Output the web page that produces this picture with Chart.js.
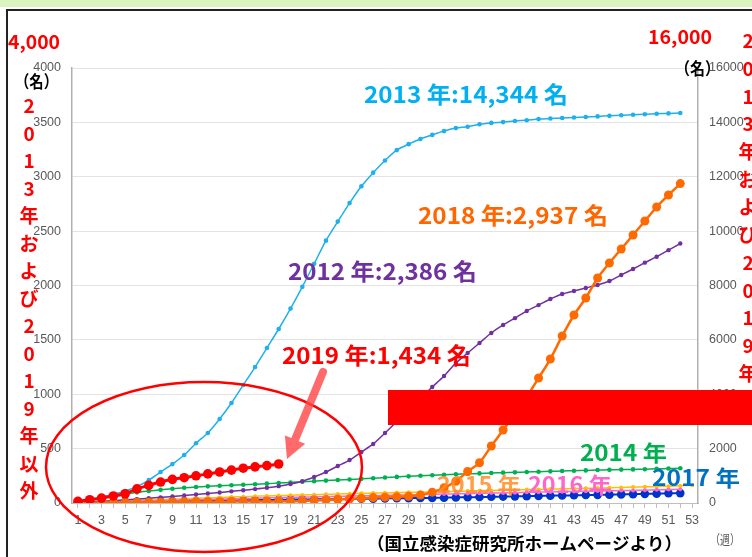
<!DOCTYPE html>
<html lang="ja">
<head>
<meta charset="utf-8">
<title>風しん累積報告数</title>
<script src="https://cdn.jsdelivr.net/npm/chart.js@4.4.1/dist/chart.umd.min.js"></script>
<style>
  html, body { margin: 0; padding: 0; background: #fff; }
  body { width: 752px; height: 557px; position: relative; overflow: hidden; }
  .band { position: absolute; left: 0; top: 0; width: 752px; height: 7px; background: #daf5bd; }
  .frame { position: absolute; left: 6px; top: 9px; width: 800px; height: 600px; border-top: 2px solid #222; border-left: 2px solid #222; }
  .wrap { position: absolute; left: 0; top: 0; width: 752px; height: 557px; }
</style>
</head>
<body>
<div class="band"></div>
<div class="frame"></div>
<div class="wrap"><canvas id="rubellaChart"></canvas></div>
<script>
// week numbers on the x axis
const weeks = ['1','2','3','4','5','6','7','8','9','10','11','12','13','14','15','16','17','18','19','20',
  '21','22','23','24','25','26','27','28','29','30','31','32','33','34','35','36','37','38','39','40',
  '41','42','43','44','45','46','47','48','49','50','51','52','53'];

// cumulative reports (2013 and 2019 use the right axis)
const y2013 = [60,130,220,320,440,600,840,1140,1430,1765, 2200,2575,3090,3680,4340,5000,5700,6400,7150,7950,
  8800,9650,10350,11030,11650,12150,12600,12980,13200,13390, 13540,13680,13790,13840,13930,13980,14010,14050,14080,14120,
  14140,14160,14180,14200,14220,14240,14260,14280,14300,14315, 14330,14344];
const y2019 = [60,120,180,260,340,520,650,770,870,930, 1000,1070,1140,1210,1280,1330,1375,1434];
const y2012 = [5,10,16,22,29,36,44,52,60,69, 78,87,97,107,117,128,140,155,175,200,
  239,285,340,395,469,543,644,750,860,965, 1067,1168,1287,1379,1471,1563,1637,1700,1766,1820,
  1876,1922,1950,1977,2005,2041,2097,2152,2210,2265, 2325,2386];
const y2014 = [10,25,42,60,80,98,110,121,131,140, 147,153,158,163,168,173,178,183,189,195,
  201,206,211,216,222,228,234,240,245,250, 255,260,264,268,272,276,279,282,285,288,
  291,294,297,300,303,305,307,309,311,314, 317,319];
const y2015 = [3,7,11,15,19,23,27,31,35,39, 43,47,51,55,58,62,65,68,71,74,
  77,80,83,86,89,91,94,96,98,100, 103,105,108,110,113,115,118,120,123,125,
  128,130,133,135,138,140,143,146,149,152, 155,159,163];
const y2016 = [2,5,8,11,14,16,19,22,25,28, 30,33,36,39,41,44,46,49,51,54,
  56,59,61,64,66,68,71,73,75,78, 80,82,84,87,89,91,93,95,98,100,
  102,104,106,108,110,112,114,116,118,121, 123,126];
const y2017 = [2,4,6,8,10,11,13,14,16,17, 19,20,22,23,25,26,28,29,31,32,
  34,35,36,38,39,40,42,43,44,46, 47,49,51,53,55,57,59,61,63,65,
  67,69,71,73,75,77,79,81,84,86, 89,91];
const y2018 = [1,2,3,4,5,6,7,8,9,10, 11,12,12,13,13,14,14,15,15,18,
  22,27,32,38,44,50,54,57,62,74, 100,140,200,290,370,524,671,820,975,1149,
  1324,1536,1729,1885,2069,2207,2336,2464,2593,2722, 2832,2937];

const leftMax = 4000, leftStep = 500;
const rightMax = 16000, rightStep = 2000;

const JP = '"Noto Sans CJK JP", "Noto Sans", sans-serif';
const TICK = '"Liberation Sans", Arial, sans-serif';

function line(label, data, color, axis, r, w) {
  return {
    label: label, data: data, yAxisID: axis,
    borderColor: color, backgroundColor: color,
    borderWidth: w, pointRadius: r, pointHoverRadius: r, pointBorderWidth: 0,
    tension: 0.25
  };
}

// text squeezed/stretched to a given width
function put(ctx, s, x, y, w, size, color, weight) {
  ctx.save();
  ctx.font = (weight || 'bold') + ' ' + size + 'px ' + JP;
  ctx.fillStyle = color;
  ctx.textBaseline = 'middle';
  ctx.textAlign = 'left';
  const k = w ? w / ctx.measureText(s).width : 1;
  ctx.translate(x, y);
  ctx.scale(k, 1);
  ctx.fillText(s, 0, 0);
  ctx.restore();
}

function vertical(ctx, s, x, y0, step, size, color) {
  ctx.save();
  ctx.font = 'bold ' + size + 'px ' + JP;
  ctx.fillStyle = color;
  ctx.textAlign = 'center';
  ctx.textBaseline = 'middle';
  Array.from(s).forEach((c, i) => ctx.fillText(c, x, y0 + i * step));
  ctx.restore();
}

const overlay = {
  id: 'overlay',
  afterDraw(chart) {
    const ctx = chart.ctx;

    // red bar across the right side
    ctx.fillStyle = '#ff0000';
    ctx.fillRect(388, 390, 364, 35);

    // series labels
    put(ctx, '2013 年:14,344 名', 364, 94, 204, 23, '#00b0f0');
    put(ctx, '2018 年:2,937 名', 418, 215, 190, 23, '#ff6600');
    put(ctx, '2012 年:2,386 名', 288, 271, 189, 23, '#7030a0');
    put(ctx, '2019 年:1,434 名', 282, 355, 189, 23, '#ff0000');
    put(ctx, '2014 年', 580, 453, 87, 22, '#00b050');
    put(ctx, '2015 年', 437, 485, 84, 22, 'rgba(255,140,40,0.85)');
    put(ctx, '2016 年', 528, 485, 84, 22, '#ff66cc');
    put(ctx, '2017 年', 652, 478, 88, 22, '#0070c0');

    // ellipse around 2019
    ctx.save();
    ctx.strokeStyle = '#ff0000';
    ctx.lineWidth = 2.5;
    ctx.beginPath();
    ctx.ellipse(204, 467, 158, 85, 0, 0, Math.PI * 2);
    ctx.stroke();

    // arrow
    const tx = 323, ty = 372, hx = 287, hy = 459;
    const ang = Math.atan2(hy - ty, hx - tx);
    const len = Math.hypot(hx - tx, hy - ty);
    ctx.translate(tx, ty);
    ctx.rotate(ang);
    ctx.fillStyle = 'rgba(255,70,70,0.8)';
    ctx.beginPath();
    ctx.arc(0, 0, 4, Math.PI / 2, Math.PI * 1.5);
    ctx.lineTo(len - 21, -4);
    ctx.lineTo(len - 21, -11);
    ctx.lineTo(len, 0);
    ctx.lineTo(len - 21, 11);
    ctx.lineTo(len - 21, 4);
    ctx.closePath();
    ctx.fill();
    ctx.restore();

    // axis captions outside the plot
    put(ctx, '4,000', 8, 42, 52, 19, '#ff0000');
    put(ctx, '（名）', 15, 82, 43, 17, '#000');
    put(ctx, '16,000', 648, 37, 64, 19, '#ff0000');
    put(ctx, '（名）', 675, 69, 45, 17, '#000');
    vertical(ctx, '2013年および2019年以外', 29, 106, 27.5, 19, '#ff0000');
    vertical(ctx, '2013年および2019年', 748, 41, 27.7, 19, '#ff0000');
    put(ctx, '（国立感染症研究所ホームページより）', 367, 544, 315, 17, '#000');
    put(ctx, '（週）', 710, 539, 30, 13, '#595959', 'normal');
  }
};

new Chart('rubellaChart', {
  type: 'line',
  data: {
    labels: weeks,
    datasets: [
      line('2019', y2019, '#ff0000', 'yR', 4.8, 3),
      line('2018', y2018, '#ff6a00', 'yL', 4.5, 2.5),
      line('2013', y2013, '#1fb0ec', 'yR', 2.3, 1.5),
      line('2012', y2012, '#7030a0', 'yL', 2.2, 1.5),
      line('2014', y2014, '#00b050', 'yL', 2.3, 1.5),
      line('2016', y2016, '#ff66cc', 'yL', 2, 1.5),
      line('2015', y2015, '#ffc000', 'yL', 2, 1.5),
      line('2017', y2017, '#0033cc', 'yL', 4.3, 2)
    ]
  },
  options: {
    responsive: true,
    maintainAspectRatio: false,
    animation: false,
    layout: { padding: { top: 68, left: 0, right: 0, bottom: 0 } },
    plugins: { legend: { display: false }, tooltip: { enabled: false } },
    scales: {
      x: {
        offset: true,
        afterFit: s => { s.height = 54; },
        grid: { drawOnChartArea: false, tickLength: 5, color: '#bfbfbf' },
        border: { color: '#bfbfbf' },
        ticks: {
          autoSkip: false, maxRotation: 0, padding: 5,
          color: '#595959', font: { family: TICK, size: 12.5 },
          callback: function(v, i) { return i % 2 === 0 ? this.getLabelForValue(v) : ''; }
        }
      },
      yL: {
        position: 'left', min: 0, max: leftMax,
        afterFit: s => { s.width = 72; },
        grid: { color: '#e3e3e3', drawTicks: false },
        border: { color: '#b0b0b0', width: 1.5 },
        ticks: { stepSize: leftStep, padding: 11, color: '#595959', font: { family: TICK, size: 12.5 }, callback: v => String(v) }
      },
      yR: {
        position: 'right', min: 0, max: rightMax,
        afterFit: s => { s.width = 54; },
        grid: { drawOnChartArea: false, drawTicks: false },
        border: { color: '#b0b0b0', width: 1.5 },
        ticks: { stepSize: rightStep, padding: 11, color: '#595959', font: { family: TICK, size: 12.5 }, callback: v => String(v) }
      }
    }
  },
  plugins: [overlay]
});
</script>
</body>
</html>
